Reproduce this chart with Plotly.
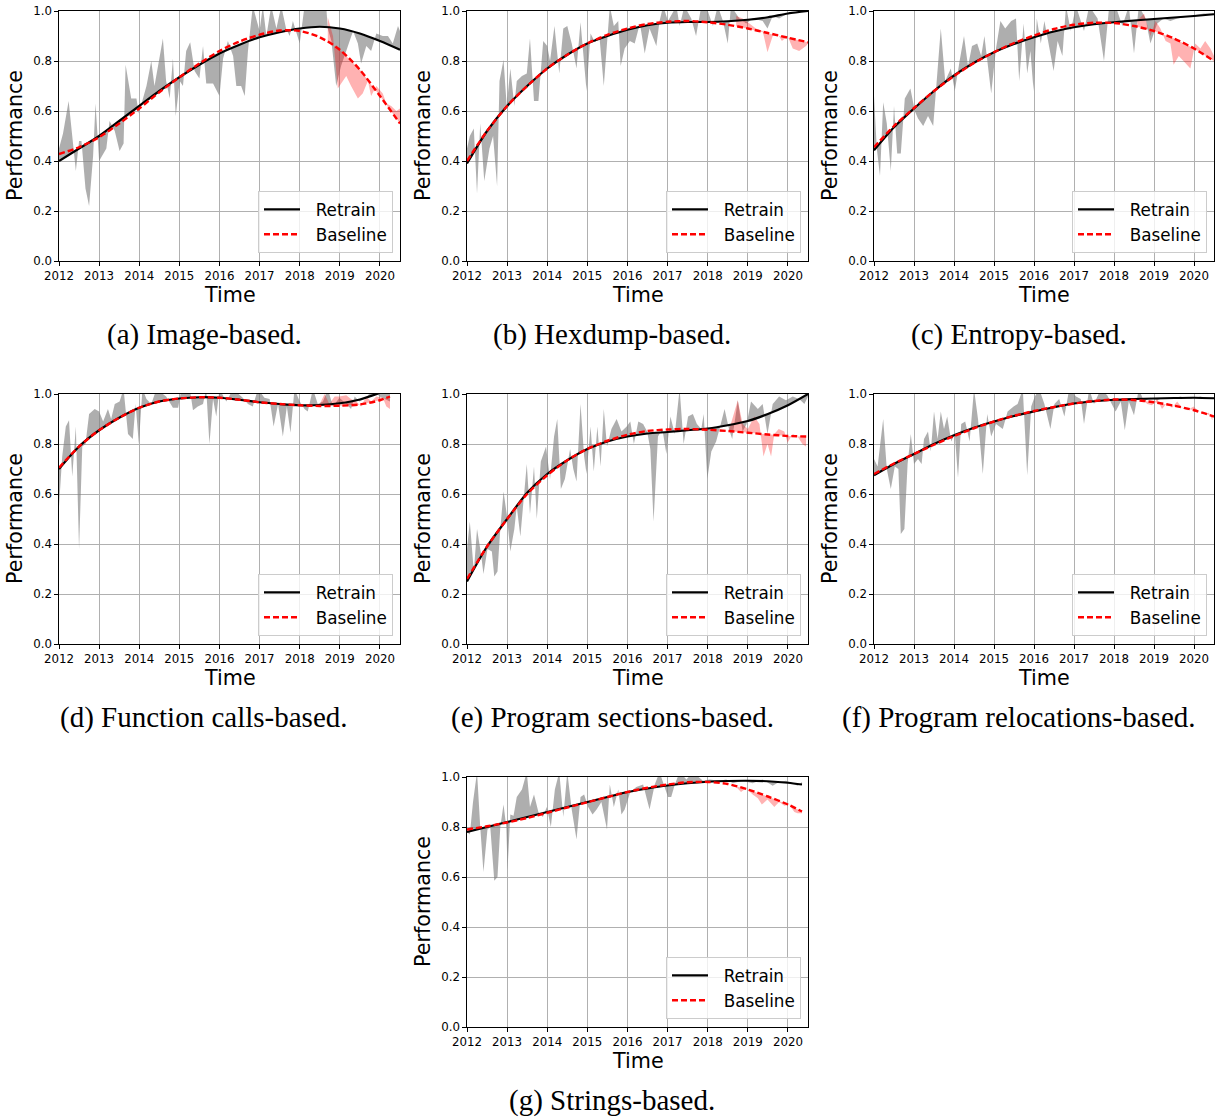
import numpy as np
import plotly.graph_objects as go

FIG_W, FIG_H = 1225, 1118

YEAR_TICKS = [2012, 2013, 2014, 2015, 2016, 2017, 2018, 2019, 2020]
YEAR_LABELS = ["2012", "2013", "2014", "2015", "2016", "2017", "2018", "2019", "2020"]
PERF_TICKS = [0.0, 0.2, 0.4, 0.6, 0.8, 1.0]
PERF_LABELS = ["0.0", "0.2", "0.4", "0.6", "0.8", "1.0"]
SERIES_NAMES = ["Retrain", "Baseline"]
CAPTIONS = ["(a) Image-based.", "(b) Hexdump-based.", "(c) Entropy-based.",
            "(d) Function calls-based.", "(e) Program sections-based.",
            "(f) Program relocations-based.", "(g) Strings-based."]

FIT_T = [2012.0, 2012.5, 2013.0, 2013.5, 2014.0, 2014.5, 2015.0, 2015.5, 2016.0,
         2016.5, 2017.0, 2017.5, 2018.0, 2018.5, 2019.0, 2019.5, 2020.0, 2020.5]

# ---------------- (a) Image-based ----------------
A_RETRAIN_T = [2012.00, 2012.10, 2012.24, 2012.42, 2012.50, 2012.56, 2012.66, 2012.75, 2012.85, 2012.91,
               2013.00, 2013.18, 2013.26, 2013.39, 2013.51, 2013.61, 2013.66, 2013.80, 2013.93, 2013.99,
               2014.18, 2014.30, 2014.38, 2014.59, 2014.67, 2014.76, 2014.84, 2014.91, 2015.01, 2015.09,
               2015.17, 2015.27, 2015.38, 2015.50, 2015.59, 2015.67, 2015.84, 2016.00, 2016.09, 2016.21,
               2016.34, 2016.42, 2016.54, 2016.63, 2016.71, 2016.83, 2017.00, 2017.08, 2017.17, 2017.29,
               2017.42, 2017.54, 2017.66, 2017.75, 2017.83, 2018.00, 2018.12, 2018.66, 2018.70, 2018.79,
               2018.91, 2019.03, 2019.16, 2019.33, 2019.45, 2019.53, 2019.66, 2019.78, 2019.91, 2020.07,
               2020.20, 2020.32, 2020.45, 2020.50]
A_RETRAIN_RAW = [0.45, 0.51, 0.64, 0.36, 0.48, 0.48, 0.29, 0.22, 0.42, 0.63,
                 0.40, 0.45, 0.56, 0.52, 0.44, 0.47, 0.785, 0.65, 0.65, 0.59,
                 0.70, 0.80, 0.70, 0.89, 0.72, 0.65, 0.81, 0.58, 0.72, 0.70,
                 0.84, 0.875, 0.76, 0.73, 0.86, 0.71, 0.71, 0.66, 0.81, 0.88,
                 0.82, 0.70, 0.70, 0.66, 0.84, 1.02, 0.92, 1.02, 0.90, 1.02,
                 0.93, 1.02, 0.93, 0.90, 0.96, 0.87, 1.02, 1.02, 0.93, 0.88,
                 0.70, 0.78, 0.84, 0.92, 0.87, 0.79, 0.86, 0.84, 0.91, 0.90,
                 0.90, 0.87, 0.94, 0.92]
A_BASELINE_T = [2018.70, 2018.83, 2018.95, 2019.16, 2019.28, 2019.45, 2019.57, 2019.70, 2019.78, 2019.91,
                2020.07, 2020.16, 2020.28, 2020.41, 2020.50]
A_BASELINE_RAW = [0.975, 0.90, 0.69, 0.74, 0.70, 0.65, 0.67, 0.72, 0.66, 0.70,
                  0.67, 0.63, 0.62, 0.60, 0.61]
A_FIT_T = FIT_T
A_RETRAIN_FIT = [0.40, 0.45, 0.50, 0.56, 0.62, 0.68, 0.735, 0.785, 0.83, 0.865,
                 0.895, 0.915, 0.93, 0.937, 0.93, 0.91, 0.88, 0.845]
A_BASELINE_FIT = [0.428, 0.455, 0.495, 0.55, 0.61, 0.675, 0.735, 0.79, 0.84, 0.878,
                  0.905, 0.922, 0.92, 0.895, 0.845, 0.765, 0.66, 0.55]

# ---------------- (b) Hexdump-based ----------------
B_RETRAIN_T = [2012.00, 2012.07, 2012.17, 2012.25, 2012.33, 2012.43, 2012.56, 2012.65, 2012.75, 2012.81,
               2012.91, 2012.99, 2013.08, 2013.18, 2013.24, 2013.37, 2013.49, 2013.57, 2013.67, 2013.78,
               2013.90, 2014.00, 2014.07, 2014.18, 2014.30, 2014.40, 2014.50, 2014.61, 2014.73, 2014.83,
               2014.98, 2015.08, 2015.19, 2015.30, 2015.41, 2015.56, 2015.66, 2015.77, 2015.83, 2015.93,
               2016.06, 2016.18, 2016.31, 2016.43, 2016.55, 2016.72, 2016.80, 2016.89, 2017.01, 2017.22,
               2017.30, 2017.42, 2017.59, 2017.71, 2017.84, 2017.96, 2018.13, 2018.25, 2018.38, 2018.50,
               2018.58, 2018.79, 2018.96, 2019.12, 2019.37, 2019.49, 2019.62, 2019.78, 2019.99, 2020.20,
               2020.45, 2020.50]
B_RETRAIN_RAW = [0.45, 0.50, 0.53, 0.27, 0.55, 0.32, 0.45, 0.50, 0.30, 0.72,
                 0.805, 0.62, 0.77, 0.62, 0.72, 0.74, 0.75, 0.89, 0.64, 0.64,
                 0.88, 0.86, 0.80, 0.94, 0.75, 0.93, 0.94, 0.87, 0.77, 0.955,
                 0.68, 0.91, 0.875, 0.90, 0.70, 1.02, 0.94, 0.96, 0.78, 0.85,
                 0.88, 0.87, 0.95, 0.83, 0.93, 0.86, 0.96, 1.02, 0.96, 1.02,
                 0.94, 1.02, 0.97, 0.90, 1.02, 1.02, 0.94, 1.02, 0.96, 0.87,
                 1.02, 0.97, 0.95, 0.97, 0.96, 0.93, 0.98, 0.97, 0.99, 0.995,
                 1.0, 1.0]
B_BASELINE_T = [2018.71, 2018.87, 2019.04, 2019.20, 2019.37, 2019.49, 2019.62, 2019.74, 2019.85, 2019.99,
                2020.12, 2020.28, 2020.45, 2020.50]
B_BASELINE_RAW = [0.98, 0.97, 0.95, 0.93, 0.92, 0.835, 0.90, 0.91, 0.88, 0.90,
                  0.85, 0.84, 0.86, 0.87]
B_FIT_T = FIT_T
B_RETRAIN_FIT = [0.39, 0.52, 0.62, 0.70, 0.77, 0.825, 0.87, 0.90, 0.925, 0.943,
                 0.953, 0.956, 0.956, 0.959, 0.965, 0.975, 0.99, 1.0]
B_BASELINE_FIT = [0.40, 0.52, 0.62, 0.70, 0.77, 0.825, 0.87, 0.905, 0.93, 0.948,
                  0.957, 0.96, 0.955, 0.945, 0.93, 0.912, 0.893, 0.875]

# ---------------- (c) Entropy-based ----------------
C_RETRAIN_T = [2012.00, 2012.07, 2012.15, 2012.23, 2012.32, 2012.42, 2012.50, 2012.58, 2012.67, 2012.77,
               2012.91, 2013.02, 2013.10, 2013.23, 2013.35, 2013.48, 2013.67, 2013.78, 2013.92, 2014.02,
               2014.14, 2014.25, 2014.35, 2014.45, 2014.58, 2014.68, 2014.76, 2014.93, 2015.05, 2015.16,
               2015.28, 2015.43, 2015.55, 2015.63, 2015.74, 2015.83, 2015.91, 2015.99, 2016.07, 2016.17,
               2016.26, 2016.38, 2016.49, 2016.59, 2016.71, 2016.80, 2016.92, 2017.05, 2017.25, 2017.38,
               2017.59, 2017.75, 2017.88, 2018.04, 2018.21, 2018.37, 2018.50, 2018.62, 2018.79, 2018.91,
               2019.08, 2019.24, 2019.41, 2019.58, 2019.74, 2019.99, 2020.24, 2020.47, 2020.50]
C_RETRAIN_RAW = [0.66, 0.45, 0.34, 0.635, 0.55, 0.36, 0.62, 0.43, 0.43, 0.65,
                 0.69, 0.60, 0.57, 0.54, 0.58, 0.54, 0.93, 0.72, 0.77, 0.68,
                 0.80, 0.90, 0.78, 0.86, 0.87, 0.82, 0.90, 0.67, 0.85, 0.96,
                 0.93, 0.96, 0.97, 0.72, 0.95, 0.75, 0.84, 0.68, 0.97, 0.87,
                 0.96, 0.85, 0.76, 0.88, 0.82, 1.02, 0.92, 1.02, 0.92, 1.02,
                 0.97, 0.80, 1.02, 1.02, 0.94, 1.02, 0.83, 1.02, 0.97, 0.87,
                 0.95, 0.97, 0.96, 0.97, 0.975, 0.985, 0.99, 0.99, 0.99]
C_BASELINE_T = [2018.58, 2018.75, 2018.91, 2019.04, 2019.16, 2019.29, 2019.41, 2019.49, 2019.62, 2019.74,
                2019.91, 2020.03, 2020.16, 2020.28, 2020.41, 2020.50]
C_BASELINE_RAW = [0.96, 0.99, 0.90, 0.96, 0.93, 0.88, 0.87, 0.785, 0.82, 0.80,
                  0.77, 0.87, 0.85, 0.88, 0.85, 0.82]
C_FIT_T = FIT_T
C_RETRAIN_FIT = [0.443, 0.535, 0.61, 0.68, 0.742, 0.793, 0.835, 0.868, 0.895, 0.918,
                 0.935, 0.947, 0.955, 0.962, 0.968, 0.974, 0.98, 0.987]
C_BASELINE_FIT = [0.455, 0.54, 0.612, 0.68, 0.74, 0.792, 0.835, 0.872, 0.902, 0.928,
                  0.945, 0.953, 0.952, 0.94, 0.92, 0.89, 0.85, 0.80]

# ---------------- (d) Function calls-based ----------------
D_RETRAIN_T = [2012.00, 2012.08, 2012.17, 2012.25, 2012.33, 2012.42, 2012.50, 2012.58, 2012.66, 2012.75,
               2012.89, 2013.00, 2013.10, 2013.22, 2013.30, 2013.39, 2013.51, 2013.61, 2013.72, 2013.84,
               2013.91, 2013.99, 2014.08, 2014.18, 2014.30, 2014.43, 2014.67, 2014.84, 2014.97, 2015.05,
               2015.26, 2015.34, 2015.46, 2015.59, 2015.67, 2015.75, 2015.84, 2015.92, 2016.00, 2016.17,
               2016.34, 2016.58, 2016.71, 2016.83, 2016.96, 2017.12, 2017.25, 2017.35, 2017.46, 2017.58,
               2017.68, 2017.77, 2017.87, 2018.00, 2018.12, 2018.20, 2018.33, 2018.45, 2018.58, 2018.70,
               2018.83, 2018.99, 2019.16, 2019.28, 2019.37, 2019.49, 2019.66, 2019.82, 2019.99, 2020.25]
D_RETRAIN_RAW = [0.55, 0.75, 0.87, 0.895, 0.67, 0.87, 0.38, 0.79, 0.80, 0.92,
                 0.94, 0.93, 0.89, 0.94, 0.90, 0.96, 0.97, 1.02, 0.84, 0.82,
                 0.96, 0.80, 1.02, 0.98, 0.96, 1.02, 0.99, 0.945, 0.945, 1.02,
                 1.02, 0.935, 0.95, 0.96, 1.02, 0.80, 0.98, 0.91, 1.02, 0.97,
                 1.02, 0.985, 0.96, 0.95, 1.02, 0.985, 0.98, 0.87, 0.96, 0.83,
                 0.95, 0.845, 1.02, 0.97, 0.94, 0.93, 1.02, 0.96, 0.97, 1.02,
                 0.95, 0.985, 0.96, 0.94, 0.99, 0.97, 0.985, 1.02, 0.99, 0.97]
D_BASELINE_T = [2018.50, 2018.62, 2018.74, 2018.87, 2018.99, 2019.16, 2019.28, 2019.41, 2019.53, 2019.66,
                2019.78, 2019.91, 2020.07, 2020.16, 2020.25]
D_BASELINE_RAW = [0.96, 1.0, 0.96, 0.99, 0.99, 0.995, 0.98, 0.97, 0.95, 0.99,
                  0.97, 0.99, 0.985, 0.95, 0.94]
D_FIT_T = [2012.0, 2012.5, 2013.0, 2013.5, 2014.0, 2014.5, 2015.0, 2015.5, 2016.0,
           2016.5, 2017.0, 2017.5, 2018.0, 2018.5, 2019.0, 2019.5, 2020.0, 2020.25]
D_RETRAIN_FIT = [0.70, 0.79, 0.855, 0.905, 0.945, 0.97, 0.982, 0.987, 0.985,
                 0.977, 0.967, 0.96, 0.955, 0.956, 0.963, 0.978, 1.005, 1.02]
D_BASELINE_FIT = [0.705, 0.79, 0.855, 0.905, 0.945, 0.97, 0.982, 0.987, 0.985,
                  0.977, 0.967, 0.96, 0.955, 0.952, 0.953, 0.958, 0.975, 0.99]

# ---------------- (e) Program sections-based ----------------
E_RETRAIN_T = [2012.00, 2012.07, 2012.17, 2012.25, 2012.35, 2012.41, 2012.51, 2012.62, 2012.68, 2012.76,
               2012.83, 2012.91, 2012.99, 2013.08, 2013.18, 2013.24, 2013.33, 2013.41, 2013.49, 2013.57,
               2013.67, 2013.74, 2013.84, 2013.97, 2014.07, 2014.17, 2014.25, 2014.34, 2014.44, 2014.57,
               2014.65, 2014.73, 2014.83, 2014.92, 2014.98, 2015.08, 2015.16, 2015.25, 2015.33, 2015.41,
               2015.49, 2015.60, 2015.73, 2015.85, 2015.98, 2016.07, 2016.16, 2016.27, 2016.39, 2016.49,
               2016.57, 2016.65, 2016.76, 2016.87, 2016.97, 2017.07, 2017.18, 2017.30, 2017.40, 2017.51,
               2017.63, 2017.73, 2017.84, 2017.90, 2017.99, 2018.09, 2018.21, 2018.31, 2018.42, 2018.53,
               2018.61, 2018.75, 2018.87, 2018.97, 2019.08, 2019.25, 2019.37, 2019.49, 2019.62, 2019.78,
               2019.95, 2020.12, 2020.28, 2020.41, 2020.50]
E_RETRAIN_RAW = [0.38, 0.49, 0.29, 0.46, 0.36, 0.28, 0.38, 0.37, 0.27, 0.29,
                 0.46, 0.61, 0.52, 0.37, 0.46, 0.55, 0.43, 0.58, 0.72, 0.52,
                 0.71, 0.50, 0.73, 0.79, 0.66, 0.83, 0.90, 0.62, 0.66, 0.78,
                 0.70, 0.65, 0.96, 0.75, 0.68, 0.87, 0.69, 0.87, 0.71, 0.94,
                 0.79, 0.86, 0.90, 0.85, 0.87, 0.89, 0.80, 0.89, 0.88, 0.85,
                 0.78, 0.49, 0.83, 0.86, 0.76, 0.91, 0.84, 1.02, 0.80, 0.91,
                 0.92, 0.88, 0.86, 0.92, 0.66, 0.77, 0.81, 0.87, 0.94, 0.86,
                 0.82, 0.975, 0.85, 0.88, 0.97, 0.94, 0.96, 0.84, 0.96, 0.99,
                 0.975, 0.99, 0.98, 0.96, 0.99]
E_BASELINE_T = [2018.54, 2018.75, 2018.87, 2019.00, 2019.16, 2019.29, 2019.39, 2019.49, 2019.58, 2019.66,
                2019.77, 2019.91, 2019.99, 2020.12, 2020.24, 2020.36, 2020.45]
E_BASELINE_RAW = [0.86, 0.975, 0.88, 0.86, 0.91, 0.88, 0.75, 0.80, 0.75, 0.84,
                  0.86, 0.85, 0.805, 0.84, 0.83, 0.80, 0.79]
E_FIT_T = FIT_T
E_RETRAIN_FIT = [0.25, 0.39, 0.50, 0.605, 0.68, 0.735, 0.78, 0.81, 0.83, 0.842,
                 0.848, 0.855, 0.862, 0.875, 0.892, 0.92, 0.955, 1.0]
E_BASELINE_FIT = [0.26, 0.39, 0.50, 0.60, 0.675, 0.735, 0.78, 0.813, 0.837, 0.852,
                  0.858, 0.86, 0.857, 0.852, 0.845, 0.838, 0.832, 0.83]

# ---------------- (f) Program relocations-based ----------------
F_RETRAIN_T = [2012.00, 2012.09, 2012.23, 2012.32, 2012.42, 2012.52, 2012.61, 2012.67, 2012.76, 2012.84,
               2012.92, 2013.00, 2013.10, 2013.19, 2013.25, 2013.35, 2013.42, 2013.50, 2013.59, 2013.67,
               2013.75, 2013.83, 2013.93, 2014.02, 2014.10, 2014.18, 2014.28, 2014.39, 2014.50, 2014.60,
               2014.72, 2014.83, 2014.93, 2015.05, 2015.22, 2015.34, 2015.49, 2015.59, 2015.72, 2015.83,
               2015.93, 2016.02, 2016.13, 2016.26, 2016.41, 2016.51, 2016.63, 2016.76, 2016.88, 2017.05,
               2017.17, 2017.25, 2017.38, 2017.50, 2017.67, 2017.83, 2018.04, 2018.17, 2018.27, 2018.37,
               2018.50, 2018.62, 2018.75, 2018.91, 2019.08, 2019.24, 2019.41, 2019.66, 2019.91, 2020.16,
               2020.46, 2020.50]
F_RETRAIN_RAW = [0.74, 0.71, 0.90, 0.70, 0.62, 0.71, 0.70, 0.44, 0.46, 0.72,
                 0.84, 0.72, 0.74, 0.72, 0.82, 0.85, 0.77, 0.93, 0.82, 0.93,
                 0.86, 0.91, 0.81, 0.84, 0.665, 0.88, 0.89, 0.81, 1.02, 0.90,
                 0.68, 0.92, 0.83, 0.88, 0.86, 0.93, 0.95, 0.96, 1.02, 0.675,
                 0.95, 0.99, 1.02, 0.96, 0.86, 0.96, 0.98, 0.91, 1.02, 0.99,
                 0.98, 0.88, 1.02, 0.96, 1.02, 0.995, 0.93, 0.97, 0.855, 0.97,
                 0.915, 1.02, 0.97, 0.985, 0.975, 0.985, 0.98, 0.99, 0.98, 0.99,
                 0.98, 0.98]
F_BASELINE_T = [2018.71, 2018.83, 2018.95, 2019.08, 2019.20, 2019.33, 2019.45, 2019.58, 2019.70, 2019.83,
                2019.99, 2020.12, 2020.24, 2020.37, 2020.46]
F_BASELINE_RAW = [0.98, 0.96, 0.955, 0.98, 0.94, 0.965, 0.945, 0.97, 0.945, 0.935,
                  0.95, 0.93, 0.92, 0.925, 0.895]
F_FIT_T = FIT_T
F_RETRAIN_FIT = [0.675, 0.72, 0.76, 0.80, 0.835, 0.865, 0.89, 0.912, 0.93, 0.947,
                 0.962, 0.971, 0.977, 0.98, 0.982, 0.984, 0.985, 0.983]
F_BASELINE_FIT = [0.68, 0.722, 0.76, 0.797, 0.832, 0.863, 0.89, 0.913, 0.932, 0.948,
                  0.962, 0.972, 0.978, 0.976, 0.967, 0.953, 0.935, 0.91]

# ---------------- (g) Strings-based ----------------
G_RETRAIN_T = [2012.00, 2012.07, 2012.15, 2012.25, 2012.33, 2012.41, 2012.51, 2012.58, 2012.68, 2012.76,
               2012.83, 2012.91, 2012.98, 2013.01, 2013.08, 2013.16, 2013.24, 2013.37, 2013.49, 2013.57,
               2013.67, 2013.78, 2013.89, 2013.99, 2014.09, 2014.19, 2014.30, 2014.40, 2014.50, 2014.61,
               2014.73, 2014.83, 2014.92, 2015.02, 2015.13, 2015.23, 2015.35, 2015.49, 2015.56, 2015.66,
               2015.77, 2015.85, 2015.93, 2016.07, 2016.22, 2016.39, 2016.55, 2016.68, 2016.80, 2016.93,
               2017.01, 2017.09, 2017.18, 2017.30, 2017.47, 2017.63, 2017.88, 2018.05, 2018.29, 2018.46,
               2018.63, 2018.87, 2019.12, 2019.37, 2019.62, 2019.78, 2019.95, 2020.12, 2020.24, 2020.35]
G_RETRAIN_RAW = [0.78, 0.77, 0.90, 1.02, 0.80, 0.62, 0.79, 0.80, 0.585, 0.60,
                 0.80, 0.89, 0.80, 0.63, 0.85, 0.845, 0.92, 0.95, 1.02, 0.88,
                 0.93, 0.86, 0.84, 0.88, 0.80, 0.95, 1.02, 0.84, 1.02, 0.87,
                 0.75, 0.92, 0.93, 0.88, 0.85, 0.87, 0.90, 0.79, 0.97, 0.88,
                 0.95, 0.85, 0.87, 0.94, 0.96, 0.97, 0.87, 0.97, 1.02, 0.96,
                 0.92, 0.92, 0.97, 1.02, 0.99, 1.02, 0.985, 0.99, 0.985, 0.99,
                 0.975, 0.985, 0.975, 0.99, 0.965, 0.98, 0.985, 0.975, 0.965, 0.98]
G_BASELINE_T = [2018.54, 2018.71, 2018.83, 2018.96, 2019.12, 2019.25, 2019.35, 2019.49, 2019.66, 2019.78,
                2019.91, 2020.03, 2020.16, 2020.24, 2020.35]
G_BASELINE_RAW = [0.97, 0.96, 0.94, 0.955, 0.93, 0.915, 0.89, 0.91, 0.88, 0.90,
                  0.885, 0.89, 0.86, 0.855, 0.855]
G_FIT_T = [2012.0, 2012.5, 2013.0, 2013.5, 2014.0, 2014.5, 2015.0, 2015.5, 2016.0,
           2016.5, 2017.0, 2017.5, 2018.0, 2018.5, 2019.0, 2019.5, 2020.0, 2020.35]
G_RETRAIN_FIT = [0.78, 0.80, 0.82, 0.84, 0.86, 0.88, 0.90, 0.92, 0.94,
                 0.954, 0.966, 0.975, 0.981, 0.984, 0.985, 0.983, 0.977, 0.97]
G_BASELINE_FIT = [0.79, 0.803, 0.818, 0.836, 0.857, 0.878, 0.899, 0.92, 0.94,
                  0.957, 0.97, 0.979, 0.98, 0.972, 0.95, 0.922, 0.89, 0.862]

PANELS = [
    (A_RETRAIN_T, A_RETRAIN_RAW, A_BASELINE_T, A_BASELINE_RAW, A_FIT_T, A_RETRAIN_FIT, A_BASELINE_FIT),
    (B_RETRAIN_T, B_RETRAIN_RAW, B_BASELINE_T, B_BASELINE_RAW, B_FIT_T, B_RETRAIN_FIT, B_BASELINE_FIT),
    (C_RETRAIN_T, C_RETRAIN_RAW, C_BASELINE_T, C_BASELINE_RAW, C_FIT_T, C_RETRAIN_FIT, C_BASELINE_FIT),
    (D_RETRAIN_T, D_RETRAIN_RAW, D_BASELINE_T, D_BASELINE_RAW, D_FIT_T, D_RETRAIN_FIT, D_BASELINE_FIT),
    (E_RETRAIN_T, E_RETRAIN_RAW, E_BASELINE_T, E_BASELINE_RAW, E_FIT_T, E_RETRAIN_FIT, E_BASELINE_FIT),
    (F_RETRAIN_T, F_RETRAIN_RAW, F_BASELINE_T, F_BASELINE_RAW, F_FIT_T, F_RETRAIN_FIT, F_BASELINE_FIT),
    (G_RETRAIN_T, G_RETRAIN_RAW, G_BASELINE_T, G_BASELINE_RAW, G_FIT_T, G_RETRAIN_FIT, G_BASELINE_FIT),
]

# layout geometry (pixels)
COLS = [(59, 400), (467, 808), (874, 1214)]
ROWS = [(11, 261), (394, 644), (777, 1027)]
POS = [(0, 0), (0, 1), (0, 2), (1, 0), (1, 1), (1, 2), (2, 1)]
CAPTION_CX = [204, 612, 1019]
CAPTION_CY = [334, 717, 1100]

SANS = "DejaVu Sans"
SERIF = "Liberation Serif"
GRAY_FILL = "rgba(128,128,128,0.64)"
RED_FILL = "rgba(255,0,0,0.3)"
LEGEND_PAD = "\u00a0\u00a0"

def px(x):
    return x / FIG_W

def py(y):
    return 1 - y / FIG_H

fig = go.Figure()
layout = dict(
    template="none",
    width=FIG_W, height=FIG_H, autosize=False,
    margin=dict(l=0, r=0, t=0, b=0, pad=0, autoexpand=False),
    paper_bgcolor="white", plot_bgcolor="white",
    showlegend=True,
)
annotations = []

for i, (rt, rraw, bt, braw, ft, rfit, bfit) in enumerate(PANELS):
    r, c = POS[i]
    x0, x1 = COLS[c]
    y0, y1 = ROWS[r]
    sfx = "" if i == 0 else str(i + 1)
    xa, ya = "x" + sfx, "y" + sfx
    leg = "legend" + sfx

    # gray band: retrain raw vs retrain fit
    gx = list(rt) + list(ft[::-1])
    gy = list(rraw) + list(rfit[::-1])
    fig.add_trace(go.Scatter(x=gx, y=gy, fill="toself", fillcolor=GRAY_FILL, mode="lines",
                             line=dict(width=0, color=GRAY_FILL), hoverinfo="skip",
                             showlegend=False, xaxis=xa, yaxis=ya, legend=leg))
    # red band: baseline raw vs baseline fit (after the split)
    ft_arr = np.array(ft)
    bf_arr = np.array(bfit)
    inside = (ft_arr > bt[0]) & (ft_arr < bt[-1])
    cx = [bt[-1]] + list(ft_arr[inside][::-1]) + [bt[0]]
    cy = [float(np.interp(bt[-1], ft_arr, bf_arr))] + list(bf_arr[inside][::-1]) + \
         [float(np.interp(bt[0], ft_arr, bf_arr))]
    fig.add_trace(go.Scatter(x=list(bt) + cx, y=list(braw) + cy, fill="toself", fillcolor=RED_FILL,
                             mode="lines", line=dict(width=0, color=RED_FILL), hoverinfo="skip",
                             showlegend=False, xaxis=xa, yaxis=ya, legend=leg))
    # fitted lines
    fig.add_trace(go.Scatter(x=ft, y=rfit, mode="lines", name=LEGEND_PAD + SERIES_NAMES[0],
                             line=dict(color="black", width=2.2, shape="spline", smoothing=0.8),
                             xaxis=xa, yaxis=ya, legend=leg))
    fig.add_trace(go.Scatter(x=ft, y=bfit, mode="lines", name=LEGEND_PAD + SERIES_NAMES[1],
                             line=dict(color="red", width=2.4, dash="6px,3px", shape="spline", smoothing=0.8),
                             xaxis=xa, yaxis=ya, legend=leg))

    axis_common = dict(showline=True, mirror=True, linecolor="black", linewidth=1.2,
                       showgrid=True, gridcolor="#b0b0b0", gridwidth=1,
                       ticks="outside", ticklen=3.5, tickwidth=1, tickcolor="black",
                       tickfont=dict(family=SANS, size=11.8, color="black"),
                       zeroline=False, fixedrange=True, automargin=False)
    layout["xaxis" + sfx] = dict(axis_common, domain=[px(x0), px(x1)], anchor=ya,
                                 range=[2012, 2020.5], tickvals=YEAR_TICKS, ticktext=YEAR_LABELS)
    layout["yaxis" + sfx] = dict(axis_common, domain=[py(y1), py(y0)], anchor=xa,
                                 range=[0, 1], tickvals=PERF_TICKS, ticktext=PERF_LABELS)
    layout[leg] = dict(x=px(x1 - 7), xanchor="right", y=py(y1 - 8), yanchor="bottom",
                       bgcolor="rgba(255,255,255,0.8)", bordercolor="#cccccc", borderwidth=1,
                       font=dict(family=SANS, size=16.8, color="black"), itemwidth=36,
                       tracegroupgap=0)

    annotations.append(dict(text="Time", x=px((x0 + x1) / 2), y=py(y1 + 34), xref="paper", yref="paper",
                            xanchor="center", yanchor="middle", showarrow=False,
                            font=dict(family=SANS, size=20.7, color="black")))
    annotations.append(dict(text="Performance", x=px(x0 - 44), y=py((y0 + y1) / 2), xref="paper",
                            yref="paper", xanchor="center", yanchor="middle", showarrow=False,
                            textangle=-90, font=dict(family=SANS, size=20.7, color="black")))
    annotations.append(dict(text=CAPTIONS[i], x=px(CAPTION_CX[c]), y=py(CAPTION_CY[r]), xref="paper",
                            yref="paper", xanchor="center", yanchor="middle", showarrow=False,
                            font=dict(family=SERIF, size=29, color="black")))

layout["annotations"] = annotations
fig.update_layout(**layout)
fig.write_html("out.html")
